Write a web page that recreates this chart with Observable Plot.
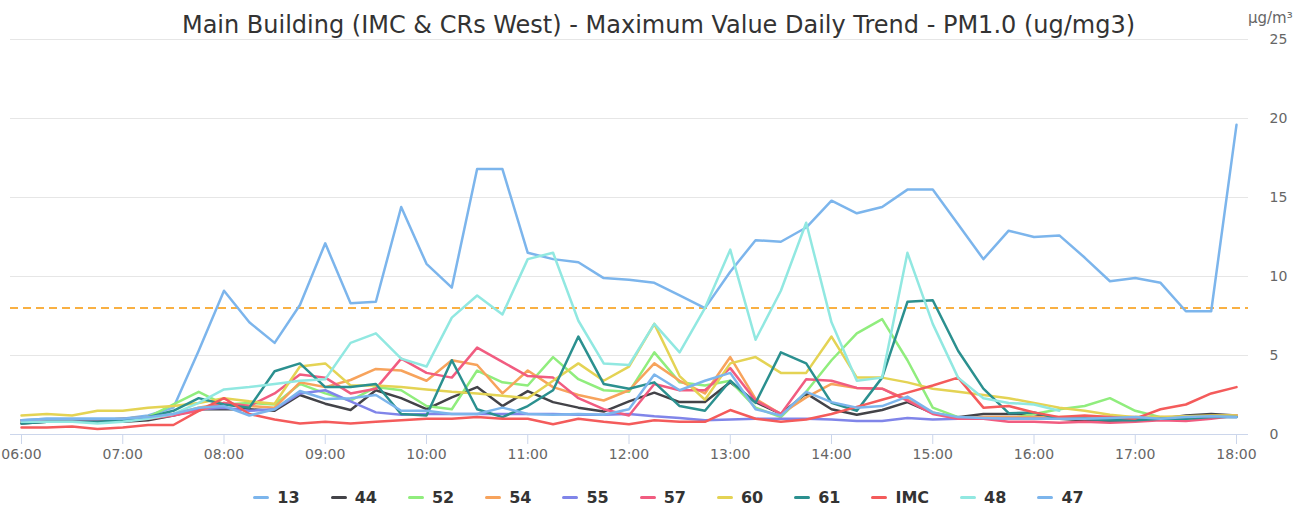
<!DOCTYPE html>
<html><head><meta charset="utf-8">
<script src="https://cdn.jsdelivr.net/npm/d3@7"></script>
<script src="https://cdn.jsdelivr.net/npm/@observablehq/plot@0.6"></script>
<style>
body{margin:0;background:#fff;font-family:"DejaVu Sans",sans-serif;}
#wrap{position:relative;width:1309px;height:509px;overflow:hidden;}
#title{position:absolute;top:11px;left:4px;width:1309px;text-align:center;font-size:24px;color:#333;white-space:nowrap;}
#unit{position:absolute;top:9px;left:1248px;font-size:15px;color:#666;}
#chart{position:absolute;top:0;left:0;}
#legend{position:absolute;top:488px;left:14px;width:1309px;display:flex;justify-content:center;gap:31px;font-weight:bold;font-size:16px;color:#333;}
#legend .item{display:flex;align-items:center;}
#legend .sw{width:16px;height:3px;border-radius:2px;margin-right:8px;}
g[aria-label="x-axis tick label"] text, g[aria-label="y-axis tick label"] text{fill:#666;}
</style>
</head><body>
<div id="wrap">
<div id="chart"></div>
<div id="title">Main Building (IMC &amp; CRs West) - Maximum Value Daily Trend - PM1.0 (ug/mg3)</div>
<div id="unit">μg/m³</div>
<div id="legend"></div>
</div>
<script>
const times = ["06:00","06:15","06:30","06:45","07:00","07:15","07:30","07:45","08:00","08:15","08:30","08:45","09:00","09:15","09:30","09:45","10:00","10:15","10:30","10:45","11:00","11:15","11:30","11:45","12:00","12:15","12:30","12:45","13:00","13:15","13:30","13:45","14:00","14:15","14:30","14:45","15:00","15:15","15:30","15:45","16:00","16:15","16:30","16:45","17:00","17:15","17:30","17:45","18:00"];
const hourTicks = ["06:00","07:00","08:00","09:00","10:00","11:00","12:00","13:00","14:00","15:00","16:00","17:00","18:00"];
const yTicks = [0,5,10,15,20,25];
const threshold = 8;

const seriesNames = ["13","44","52","54","55","57","60","61","IMC","48","47"];
const seriesColors = ["#7cb5ec","#434348","#90ed7d","#f7a35c","#8085e9","#f15c80","#e4d354","#2b908f","#f45b5b","#91e8e1","#7cb5ec"];

const s13 = [0.9,1.0,1.0,1.0,1.0,1.2,1.7,5.3,9.1,7.1,5.8,8.2,12.1,8.3,8.4,14.4,10.8,9.3,16.8,16.8,11.5,11.1,10.9,9.9,9.8,9.6,8.8,8.0,10.3,12.3,12.2,13.1,14.8,14.0,14.4,15.5,15.5,13.3,11.1,12.9,12.5,12.6,11.2,9.7,9.9,9.6,7.8,7.8,19.6];
const s44 = [0.7,0.8,0.8,0.8,0.8,0.9,1.2,1.6,1.6,1.6,1.5,2.5,1.95,1.55,2.8,2.3,1.6,2.35,3.0,1.8,2.75,2.05,1.7,1.45,2.1,2.65,2.05,2.05,3.3,2.05,1.3,2.6,1.6,1.25,1.55,2.05,1.35,1.1,1.3,1.3,1.3,1.0,0.9,0.85,0.9,1.0,1.2,1.3,1.2];
const s52 = [0.8,0.9,0.9,0.9,1.0,1.1,1.9,2.7,1.9,2.0,1.9,3.2,2.6,2.15,3.0,2.8,1.8,1.6,4.05,3.3,3.1,4.9,3.5,2.8,2.7,5.2,3.3,3.1,3.4,1.7,1.1,2.7,4.7,6.4,7.3,4.7,1.7,1.1,1.0,1.0,1.3,1.6,1.8,2.3,1.5,1.1,1.0,1.1,1.2];
const s54 = [0.9,0.9,0.9,0.9,1.0,1.1,1.3,1.7,2.0,1.8,1.7,3.3,3.0,3.45,4.15,4.05,3.4,4.7,4.4,2.6,4.05,3.0,2.5,2.15,2.8,4.5,3.4,2.6,4.9,2.25,1.3,2.35,3.2,2.95,2.9,2.2,1.4,1.0,1.1,1.1,1.1,1.1,1.1,1.1,1.1,1.1,1.1,1.15,1.2];
const s55 = [0.9,0.9,0.9,0.9,1.0,1.1,1.3,1.6,1.7,1.5,1.6,2.6,2.8,2.1,1.4,1.25,1.3,1.3,1.3,1.3,1.3,1.3,1.25,1.25,1.3,1.15,1.05,0.9,0.95,1.0,1.0,1.0,0.95,0.85,0.85,1.05,0.95,1.0,1.0,1.0,1.0,1.0,1.0,0.95,1.0,1.0,1.05,1.1,1.1];
const s57 = [0.8,0.8,0.8,0.8,0.9,1.0,1.2,1.5,2.0,1.8,2.6,3.8,3.6,2.6,2.9,4.8,3.9,3.6,5.5,4.6,3.7,3.6,2.3,1.6,1.2,3.2,2.8,2.8,4.2,2.15,1.3,3.5,3.4,2.95,2.9,2.15,1.3,1.0,1.0,0.8,0.8,0.75,0.8,0.75,0.8,0.9,0.85,1.0,1.2];
const s60 = [1.2,1.3,1.2,1.5,1.5,1.7,1.8,2.0,2.3,2.1,1.95,4.3,4.5,3.1,3.1,3.0,2.85,2.7,2.6,2.45,2.3,3.4,4.5,3.4,4.3,7.0,3.7,2.2,4.5,4.9,3.9,3.9,6.2,3.6,3.6,3.3,2.9,2.7,2.5,2.3,2.0,1.7,1.5,1.25,1.1,1.1,1.15,1.2,1.2];
const s61 = [0.7,0.8,0.8,0.8,0.9,1.1,1.5,2.3,1.9,1.7,4.0,4.5,3.0,3.0,3.2,1.3,1.2,4.7,1.6,1.1,1.8,2.8,6.2,3.2,2.9,3.3,1.8,1.5,3.4,2.0,5.2,4.5,2.0,1.5,3.6,8.4,8.5,5.3,2.9,1.35,1.4,1.0,1.0,0.9,0.9,1.0,1.0,1.1,1.1];
const sIMC = [0.45,0.45,0.5,0.35,0.45,0.6,0.6,1.5,2.3,1.3,0.95,0.7,0.8,0.7,0.8,0.9,1.0,1.0,1.1,1.0,1.0,0.65,1.0,0.8,0.65,0.9,0.8,0.8,1.55,1.0,0.8,0.95,1.3,1.75,2.2,2.65,3.1,3.6,1.7,1.8,1.4,1.1,1.2,1.1,1.0,1.6,1.9,2.6,3.0];
const s48 = [0.8,0.8,0.8,0.7,0.8,1.0,1.3,2.0,2.85,3.0,3.2,3.4,3.5,5.8,6.4,4.8,4.3,7.4,8.8,7.6,11.1,11.5,7.2,4.5,4.4,7.0,5.2,8.0,11.7,6.0,9.1,13.4,7.1,3.4,3.6,11.5,7.0,3.6,2.3,2.0,1.9,1.5,null,null,null,null,null,null,null];
const s47 = [0.9,1.0,1.0,1.0,1.0,1.1,1.3,1.7,1.8,1.2,1.6,2.75,2.25,2.3,2.5,1.5,1.5,1.3,1.3,1.7,1.3,1.25,1.3,1.25,1.6,3.8,2.8,3.4,3.9,1.6,1.2,2.7,2.05,1.7,1.8,2.4,1.4,1.1,1.05,1.0,1.0,1.0,1.0,1.05,1.1,1.0,1.1,1.15,1.1];

const seriesValues = [s13,s44,s52,s54,s55,s57,s60,s61,sIMC,s48,s47];

const toDate = s => { const [h,m] = s.split(":").map(Number); return new Date(Date.UTC(2020,0,1,h,m)); };
const rows = times.map((t,i) => {
  const r = {time: toDate(t)};
  seriesNames.forEach((n,k) => r[n] = seriesValues[k][i]);
  return r;
});

const marks = [
  Plot.ruleY(yTicks.filter(d => d > 0), {stroke:"#e6e6e6", strokeWidth:1}),
  Plot.ruleY([threshold], {stroke:"#f9b042", strokeWidth:2, strokeDasharray:"8,5"}),
  Plot.ruleY([0], {stroke:"#ccd6eb", strokeWidth:1}),
  Plot.axisX({ticks: hourTicks.map(toDate), tickFormat: d3.utcFormat("%H:%M"), tickSize:10, tickPadding:5, color:"#ccd6eb", fontSize:14, label:null}),
  Plot.axisY({anchor:"right", ticks: yTicks, tickSize:0, tickPadding:21, color:"#666", fontSize:14, label:null})
];
seriesNames.forEach((n,k) => {
  marks.push(Plot.lineY(rows, {x:"time", y:n, stroke: seriesColors[k], strokeWidth:2.5, curve:"linear"}));
});

const chart = Plot.plot({
  width:1309, height:470,
  marginTop:39, marginBottom:36, marginLeft:10, marginRight:61,
  style:{fontFamily:"DejaVu Sans, sans-serif", background:"transparent"},
  x:{type:"utc", domain:[toDate(times[0]), toDate(times[times.length-1])], insetLeft:11, insetRight:12},
  y:{domain:[0,25]},
  marks
});
document.getElementById("chart").appendChild(chart);

const legend = document.getElementById("legend");
seriesNames.forEach((n,k) => {
  const it = document.createElement("div"); it.className = "item";
  const sw = document.createElement("span"); sw.className = "sw"; sw.style.background = seriesColors[k];
  const tx = document.createElement("span"); tx.textContent = n;
  it.appendChild(sw); it.appendChild(tx); legend.appendChild(it);
});
</script>
</body></html>
